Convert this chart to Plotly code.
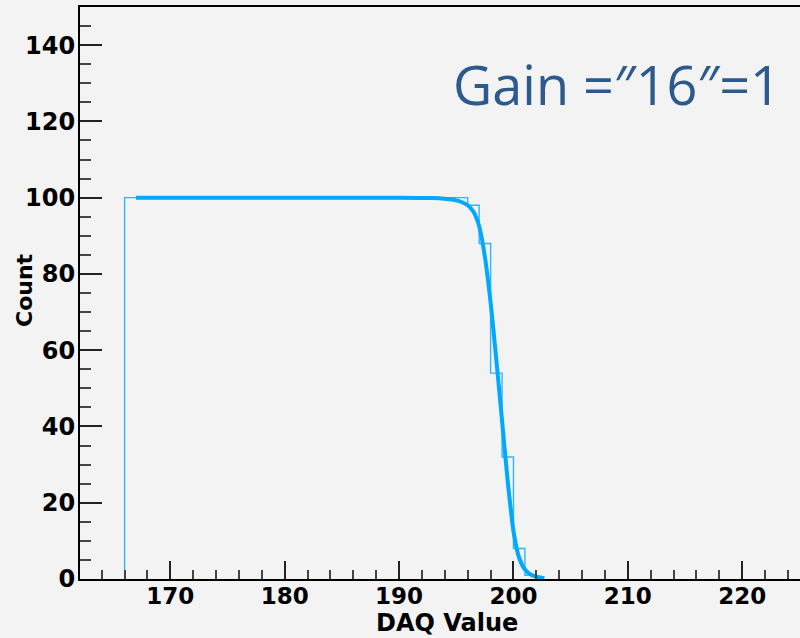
import plotly.graph_objects as go

# Histogram: integer bin edges and counts per bin
bin_edges = list(range(166, 203))
counts = [100] * 30 + [98, 88, 54, 32, 8, 1]

# Fitted S-curve sampled along DAQ value
fit_x = [167, 180, 190, 193, 194, 195, 195.5, 196, 196.5, 197, 197.5, 198, 198.5,
         199, 199.5, 200, 200.5, 201, 201.5, 202, 202.7]
fit_y = [100, 100, 100, 99.9, 99.7, 99.3, 98.8, 98.0, 96.3, 92.5, 84.5, 72.5, 57.5,
         41.5, 25.5, 12.5, 5.5, 2.5, 1.2, 0.6, 0.2]

x_ticks = [170, 180, 190, 200, 210, 220]
y_ticks = [0, 20, 40, 60, 80, 100, 120, 140]

# Step outline of the histogram, rising from zero at the first edge and falling at the last
step_x = [bin_edges[0]] + bin_edges
step_y = [0] + counts + [0]

bg = "#f3f3f3"
font_bold = "DejaVu Sans"

fig = go.Figure()
fig.add_trace(go.Scatter(
    x=step_x, y=step_y, mode="lines", line_shape="hv",
    line=dict(color="#33b4ff", width=1.4), hoverinfo="skip", showlegend=False,
))
fig.add_trace(go.Scatter(
    x=fit_x, y=fit_y, mode="lines", line_shape="spline",
    line=dict(color="#00a8ff", width=4, smoothing=0.6), showlegend=False,
))

fig.update_layout(
    width=800, height=638,
    margin=dict(l=80, r=0, t=7, b=59),
    paper_bgcolor=bg, plot_bgcolor=bg,
    xaxis=dict(
        range=[162.1, 225.05], tickvals=x_ticks, ticktext=[str(v) for v in x_ticks],
        showgrid=False, zeroline=False,
        showline=True, linecolor="black", linewidth=2, mirror=True,
        ticks="inside", ticklen=18, tickwidth=2, tickcolor="#222",
        minor=dict(ticks="inside", ticklen=9, tickwidth=2, tickcolor="#444", dtick=2, showgrid=False),
        tickfont=dict(family=font_bold, size=23, color="black", weight="bold"),
        ticklabelstandoff=-5,
    ),
    yaxis=dict(
        range=[0, 150], tickvals=y_ticks, ticktext=[str(v) for v in y_ticks],
        showgrid=False, zeroline=False,
        showline=True, linecolor="black", linewidth=2,
        ticks="inside", ticklen=22, tickwidth=2, tickcolor="#222",
        minor=dict(ticks="inside", ticklen=11, tickwidth=2, tickcolor="#444", dtick=5, showgrid=False),
        tickfont=dict(family=font_bold, size=24, color="black", weight="bold"),
        ticklabelstandoff=-2,
    ),
    annotations=[
        dict(text="DAQ Value", x=447, y=623, showarrow=False,
             font=dict(family=font_bold, size=24, color="black", weight="bold")),
        dict(text="Count", x=24, y=290, showarrow=False, textangle=-90,
             font=dict(family=font_bold, size=22, color="black", weight="bold")),
        dict(text="Gain =″16″=1", x=617, y=84, showarrow=False,
             font=dict(family="Open Sans", size=54, color="#2c5a8c")),
    ],
)

# Place the free-standing labels in pixel coordinates
W, H = 800, 638
L, R, T, B = 80, 0, 7, 59
pw, ph = W - L - R, H - T - B
for ann in fig.layout.annotations:
    ann.xref = "paper"
    ann.yref = "paper"
    px, py = ann.x, ann.y
    ann.x = (px - L) / pw
    ann.y = (H - B - py) / ph
    ann.xanchor = "center"
    ann.yanchor = "middle"

fig.write_html("out.html")
